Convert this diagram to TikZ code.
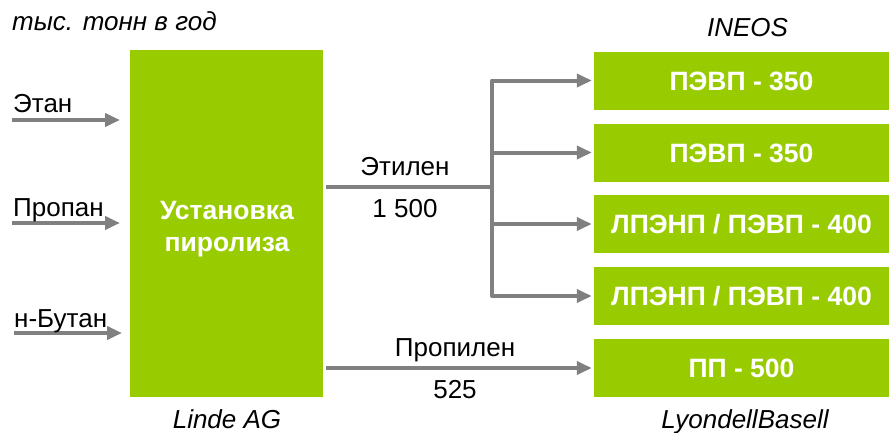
\documentclass[tikz,border=0pt]{standalone}
\usepackage{fontspec}
\setmainfont{Liberation Sans}
\usetikzlibrary{arrows.meta}

\definecolor{plantgreen}{HTML}{99CC00}
\definecolor{flowgray}{HTML}{808080}

\tikzset{flowtip/.tip = {Triangle[length = 15pt, width = 13pt]}}

\begin{document}
\begin{tikzpicture}[x = 1pt, y = -1pt,
    unit/.style = {fill = plantgreen, text = white, inner sep = 0pt, align = center,
      font = \fontsize{26.5}{32}\selectfont\bfseries},
    plant/.style = {unit, minimum width = 295pt, minimum height = 58pt,
      text height = 19pt, text depth = 0pt},
    flow/.style = {draw = flowgray, line width = 4pt, -flowtip},
    caption/.style = {inner sep = 0pt, font = \fontsize{26}{32}\selectfont},
    firm/.style = {caption, font = \fontsize{26}{32}\selectfont\itshape},
  ]

      \useasboundingbox (0, 0) rectangle (889, 432);

      % pyrolysis unit and the plants
      \node[unit, minimum width = 193pt, minimum height = 347pt] (pyrolysis) at (226.5, 223.5) {};
      \node[unit, fill = none, anchor = north] (pyrotext) at (227, 201) {Установка\\пиролиза};
      \node[plant] (hdpeA) at (741.5, 80.5) {ПЭВП - 350};
      \node[plant] (hdpeB) at (741.5, 152.5) {ПЭВП - 350};
      \node[plant] (lldpeA) at (741.5, 224) {ЛПЭНП / ПЭВП - 400};
      \node[plant] (lldpeB) at (741.5, 296) {ЛПЭНП / ПЭВП - 400};
      \node[plant] (pp) at (741.5, 368) {ПП - 500};

      % feeds
      \coordinate (ethane) at (12, 120);
      \coordinate (ethaneend) at (120, 120);
      \coordinate (propane) at (12, 223);
      \coordinate (propaneend) at (120, 223);
      \coordinate (butane) at (14, 333);
      \coordinate (butaneend) at (122, 333);
      \draw[flow] (ethane) -- (ethaneend);
      \draw[flow] (propane) -- (propaneend);
      \draw[flow] (butane) -- (butaneend);
      \node[caption, anchor = base west] (ethanelabel) at (13, 112) {Этан};
      \node[caption, anchor = base west] (propanelabel) at (13, 216) {Пропан};
      \node[caption, anchor = base west] (butanelabel) at (14, 327) {н-Бутан};

      % ethylene
      \coordinate (ethout) at (326, 187);
      \coordinate (ethsplit) at (492, 187);
      \draw[flow, -] (ethout) -- (ethsplit);
      \draw[flow, flowtip-flowtip, line join = round]
        ([xshift = -2pt] hdpeA.west)
        -- (ethsplit |- hdpeA)
        -- (ethsplit |- lldpeB)
        -- ([xshift = -2pt] lldpeB.west);
      \draw[flow] (ethsplit |- hdpeB) -- ([xshift = -2pt] hdpeB.west);
      \draw[flow] (ethsplit |- lldpeA) -- ([xshift = -2pt] lldpeA.west);
      \node[caption, anchor = base] (ethlabel) at (405, 175) {Этилен};
      \node[caption, anchor = base] (ethamount) at (405, 217) {1 500};

      % propylene
      \coordinate (propout) at (326, 368);
      \draw[flow] (propout) -- ([xshift = -2pt] pp.west);
      \node[caption, anchor = base] (proplabel) at (455, 356) {Пропилен};
      \node[caption, anchor = base] (propamount) at (455, 398) {525};

      % units and companies
      \node[firm, anchor = base west] (units) at (12, 30) {тыс. тонн в год};
      \node[firm, anchor = base] (ineos) at (747.5, 36) {INEOS};
      \node[firm, anchor = base] (linde) at (227, 428) {Linde AG};
      \node[firm, anchor = base] (lyondell) at (745, 428) {LyondellBasell};

    \end{tikzpicture}
\end{document}
